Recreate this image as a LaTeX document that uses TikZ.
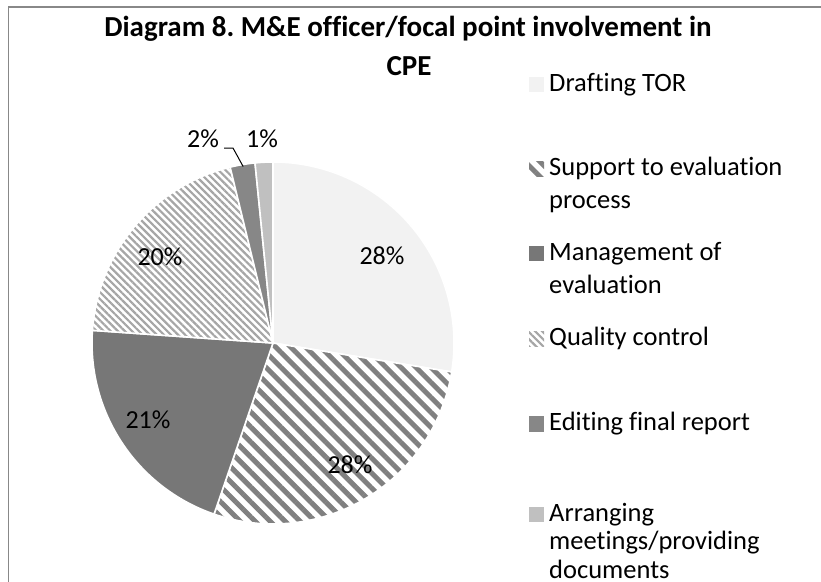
\documentclass[tikz,border=0pt]{standalone}
\usepackage{fontspec}
\setmainfont{Carlito}[Ligatures=NoCommon]
\usepackage{tikz}
\usetikzlibrary{patterns.meta}
\frenchspacing

\definecolor{torfill}{HTML}{F2F2F2}
\definecolor{supgray}{HTML}{808080}
\definecolor{mgmtfill}{HTML}{777777}
\definecolor{qcgray}{HTML}{A6A6A6}
\definecolor{editfill}{HTML}{878787}
\definecolor{arrfill}{HTML}{C0C0C0}
\definecolor{framegray}{HTML}{888888}

\tikzset{
  slice/.style={draw=white, line width=1.6pt, line join=round},
  supstripes/.style={pattern={Lines[angle=-45,distance=10.6pt,line width=5pt]}, pattern color=supgray},
  qcstripes/.style={pattern={Lines[angle=-45,distance=5pt,line width=2.2pt]}, pattern color=qcgray},
  titletext/.style={font=\bfseries\fontsize{29}{35}\selectfont, inner sep=0pt, anchor=base},
  pct/.style={font=\fontsize{26}{31}\selectfont, inner sep=0pt},
  legmark/.style={minimum size=15pt, inner sep=0pt},
  legtext/.style={font=\fontsize{26.5}{33}\selectfont, align=left, inner sep=0pt, anchor=base west},
}

\begin{document}
\begin{tikzpicture}[x=1pt, y=1pt]
\useasboundingbox (0,0) rectangle (821,581);
\clip (0,0) rectangle (821,581);

% chart frame
\draw[framegray, line width=1.5pt] (8.5,-5) -- (8.5,574) -- (830,574);

% Title
\node[titletext] (title) at (408,544) {Diagram 8. M\&E officer/focal point involvement in};
\node[titletext] (titlecpe) at (409,505) {CPE};

% Pie slices, clockwise from the top
\coordinate (c) at (273,238);
\filldraw[slice, fill=torfill] (c) -- ++(90:181) arc[start angle=90, end angle=-9.2, radius=181] -- cycle;
\filldraw[slice, supstripes] (c) -- ++(-9.2:181) arc[start angle=-9.2, end angle=-109, radius=181] -- cycle;
\filldraw[slice, fill=mgmtfill] (c) -- ++(-109:181) arc[start angle=-109, end angle=-184, radius=181] -- cycle;
\filldraw[slice, qcstripes] (c) -- ++(-184:181) arc[start angle=-184, end angle=-256.3, radius=181] -- cycle;
\filldraw[slice, fill=editfill] (c) -- ++(-256.3:181) arc[start angle=-256.3, end angle=-264.3, radius=181] -- cycle;
\filldraw[slice, fill=arrfill] (c) -- ++(-264.3:181) arc[start angle=-264.3, end angle=-270, radius=181] -- cycle;

% Data labels
\node[pct] (ptor) at (382,325) {28\%};
\node[pct] (psup) at (350,116) {28\%};
\node[pct] (pmgmt) at (148,161) {21\%};
\node[pct] (pqc) at (160,324) {20\%};
\node[pct] (pedit) at (203,442) {2\%};
\node[pct] (parr) at (262,442) {1\%};
\coordinate (ed) at ([shift={(99.6:179)}]c);
\draw[line width=1pt] ([xshift=5pt]pedit.south east) -- ++(9,0) -- (ed);

% Legend
\node[legmark, fill=torfill] (mtor) at (536.5,496) {};
\node[legtext] (ltor) at (549,489) {Drafting TOR};
\node[legmark, supstripes] (msup) at (536.5,412) {};
\node[legtext] (lsup) at (549,372) {Support to evaluation\\process};
\node[legmark, fill=mgmtfill] (mmgmt) at (536.5,327) {};
\node[legtext] (lmgmt) at (549,287) {Management of\\evaluation};
\node[legmark, qcstripes] (mqc) at (536.5,242) {};
\node[legtext] (lqc) at (549,235) {Quality control};
\node[legmark, fill=editfill] (medit) at (536.5,157) {};
\node[legtext] (ledit) at (549,150) {Editing final report};
\node[legmark, fill=arrfill] (marr) at (536.5,67) {};
\node[legtext, font=\fontsize{26.5}{28.5}\selectfont] (larr) at (549,3) {Arranging\\meetings/providing\\documents};
\end{tikzpicture}
\end{document}
